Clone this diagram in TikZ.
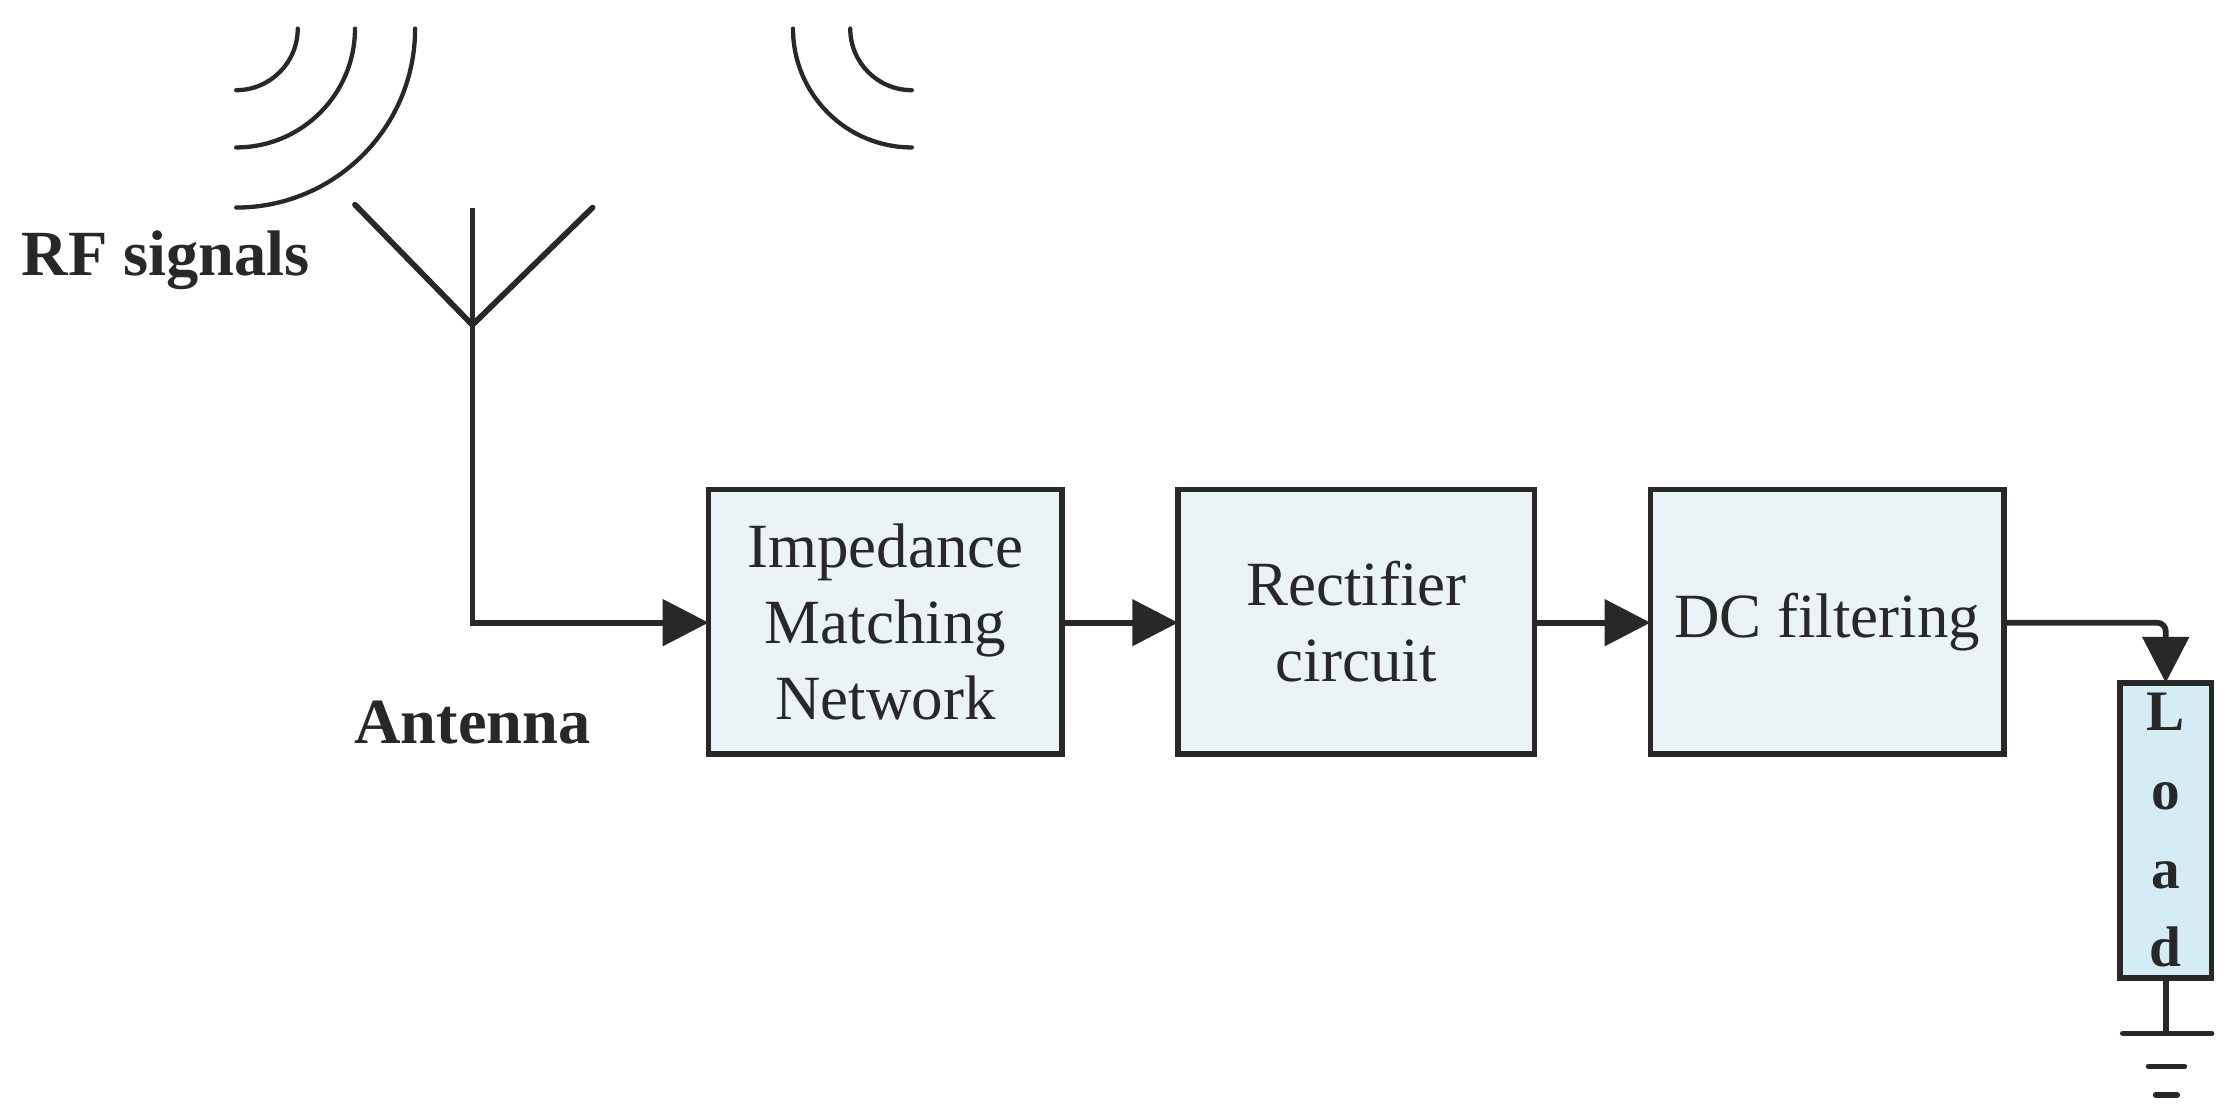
\documentclass[tikz,border=0pt]{standalone}
\usepackage{fontspec}
\setmainfont{Liberation Serif}
\usetikzlibrary{arrows.meta}
\definecolor{boxfill}{HTML}{EAF4F6}
\definecolor{loadfill}{HTML}{D4ECF3}
\definecolor{ink}{HTML}{282828}
\begin{document}
\begin{tikzpicture}[x=0.5pt,y=-0.5pt,
  ln/.style={draw=ink,line width=2pt},
  blk/.style={ln,fill=boxfill,align=center,font=\fontsize{22}{26.5}\selectfont,text=ink,inner sep=0pt},
  arr/.style={ln,-{Triangle[length=16pt,width=16pt]}},
  wave/.style={draw=ink,line width=1.5pt,line cap=round},
  lbl/.style={font=\fontsize{22.5}{26}\selectfont\bfseries,text=ink}]
\useasboundingbox (0,0) rectangle (1560,777);
% waves
\draw[wave] (165,63) arc[start angle=90,end angle=0,radius=43];
\draw[wave] (165,103) arc[start angle=90,end angle=0,radius=83];
\draw[wave] (165,145) arc[start angle=90,end angle=0,radius=125];
\draw[wave] (637,63) arc[start angle=90,end angle=180,radius=43];
\draw[wave] (637,103) arc[start angle=90,end angle=180,radius=83];
% antenna
\coordinate (apex) at (330,227);
\coordinate (top) at (330,145);
\coordinate (la) at (248,143);
\coordinate (ra) at (414,145);
\coordinate (corner) at (330,435);
\draw[ln,line cap=round] (la) -- (apex) -- (ra);
\draw[draw=ink,line width=1.5pt] (top) -- (apex);
% boxes
\path[blk] (495,342) rectangle (742,527);
\node[blk,draw=none,fill=none] (imn) at (618.5,434.5) {Impedance\\Matching\\Network};
\path[blk] (823,342) rectangle (1072,527);
\node[blk,draw=none,fill=none] (rect) at (947.5,434.5) {Rectifier\\circuit};
\path[blk] (1153,342) rectangle (1400,527);
\node[blk,draw=none,fill=none] (dc) at (1276.5,434.5) {DC filtering};
\path[ln,fill=loadfill] (1481,477) rectangle (1545,683);
\node[font=\fontsize{20}{27.5}\selectfont\bfseries,text=ink,align=center] (load) at (1513,580) {L\\o\\a\\d};
\coordinate (b1r) at (742,435);
\coordinate (b2l) at (823,435);
\coordinate (b2r) at (1072,435);
\coordinate (b3l) at (1153,435);
\coordinate (b3r) at (1400,435);
\coordinate (b1l) at (495,435);
\coordinate (lt) at (1513,477);
\coordinate (lb) at (1513,683);
\coordinate (g) at (1513,722);
% connectors
\draw[arr] (apex) -- (corner) -- (b1l);
\draw[arr] (b1r) -- (b2l);
\draw[arr] (b2r) -- (b3l);
\draw[arr,rounded corners=3pt] (b3r) -- (1513,435) -- (lt);
\draw[ln] (lb) -- (g);
\draw[ln,line cap=round] (1483,722) -- (1545,722);
\draw[ln,line cap=round] (1501,745) -- (1526,745);
\draw[ln,line cap=round] (1506,765) -- (1521,765);
% labels
\node[lbl,anchor=west] (rf) at (8,182) {RF signals};
\node[lbl] (ant) at (330,505) {Antenna};
\end{tikzpicture}
\end{document}
